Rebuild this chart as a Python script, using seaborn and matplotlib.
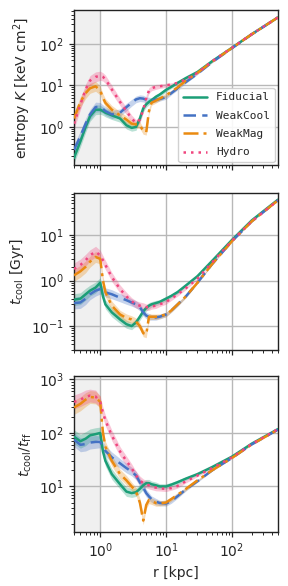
# ── Imports ──────────────────────────────────────────────────────────
import numpy as np
import pandas as pd
import matplotlib
matplotlib.use("Agg")
import matplotlib.pyplot as plt
import seaborn as sns

# ── Data ─────────────────────────────────────────────────────────────
r_kpc = [0.4, 0.5, 0.6, 0.7, 0.85, 1.0, 1.1, 1.2, 1.5, 2, 2.5, 3, 3.5, 4, 4.5,
         5, 5.5, 6, 7, 8, 10, 12, 15, 20, 30, 50, 100, 200, 500]

runs = ["Fiducial", "WeakCool", "WeakMag", "Hydro"]

# entropy K [keV cm^2]
K_fid  = [0.18, 0.45, 1.0, 1.8, 2.6, 2.6, 2.4, 2.2, 1.9, 1.6, 1.1, 0.95, 1.0, 1.6, 2.8,
          3.5, 4.0, 4.4, 5.3, 6.0, 7.8, 9.2, 11.5, 15, 21, 38, 80, 170, 430]
K_cool = [0.28, 0.6, 1.2, 2.0, 3.0, 3.0, 2.7, 2.4, 2.0, 2.2, 3.0, 3.8, 4.6, 4.9, 4.8,
          4.5, 4.4, 4.4, 4.5, 4.7, 5.2, 6.5, 8.5, 12, 19, 36, 78, 168, 430]
K_mag  = [1.6, 4.0, 6.5, 8.5, 9.5, 7.5, 5.0, 3.8, 2.6, 1.9, 1.5, 1.2, 1.15, 1.1, 0.8,
          0.75, 2.4, 3.8, 4.3, 4.8, 5.8, 7.0, 9.0, 13, 20, 37, 79, 169, 430]
K_hyd  = [1.2, 3.5, 8.0, 13, 16, 17, 16, 14, 8.0, 4.0, 2.4, 1.6, 1.25, 1.5, 2.6,
          5.0, 7.5, 8.5, 9.2, 9.5, 10, 10.5, 11.5, 14, 20, 38, 80, 170, 430]

# cooling time t_cool [Gyr]
tc_fid  = [0.38, 0.4, 0.5, 0.6, 0.7, 0.9, 0.45, 0.3, 0.2, 0.14, 0.11, 0.1, 0.12, 0.16, 0.21,
           0.25, 0.28, 0.3, 0.32, 0.34, 0.4, 0.46, 0.56, 0.78, 1.25, 2.7, 7.8, 21, 60]
tc_cool = [0.32, 0.33, 0.4, 0.5, 0.6, 0.65, 0.6, 0.55, 0.5, 0.42, 0.37, 0.33, 0.3, 0.26, 0.2,
           0.17, 0.16, 0.155, 0.155, 0.16, 0.18, 0.22, 0.3, 0.45, 0.9, 2.3, 7.3, 20, 58]
tc_mag  = [1.3, 1.6, 2.0, 2.6, 3.3, 3.0, 1.0, 0.55, 0.28, 0.18, 0.15, 0.14, 0.125, 0.1, 0.07,
           0.065, 0.16, 0.16, 0.16, 0.165, 0.18, 0.22, 0.3, 0.45, 0.9, 2.3, 7.3, 20, 58]
tc_hyd  = [1.8, 2.2, 2.8, 3.6, 4.3, 3.6, 2.8, 2.2, 1.2, 0.65, 0.45, 0.35, 0.3, 0.28, 0.27,
           0.26, 0.26, 0.27, 0.28, 0.3, 0.34, 0.4, 0.5, 0.68, 1.1, 2.5, 7.5, 20, 58]

# t_cool / t_ff
tr_fid  = [85, 70, 78, 90, 95, 100, 45, 30, 17, 11, 8.0, 7.5, 7.8, 9.0, 10.5,
           11.5, 11.5, 11, 10.5, 10, 10, 10.8, 12, 14, 17, 23, 36, 63, 118]
tr_cool = [75, 60, 62, 66, 68, 68, 55, 46, 35, 27, 22, 19, 16, 12, 9.5,
           7.5, 6.5, 5.8, 5.2, 4.9, 4.8, 5.3, 6.6, 8.8, 12.5, 20, 34, 61, 115]
tr_mag  = [300, 350, 420, 470, 460, 380, 100, 55, 30, 17, 13, 10, 8.0, 5.0, 2.3,
           4.5, 5.6, 5.3, 4.9, 4.8, 5.0, 5.8, 7.0, 9.0, 13, 20, 34, 61, 115]
tr_hyd  = [380, 420, 470, 500, 480, 380, 240, 170, 90, 45, 30, 22, 16, 13, 11.5,
           11, 10.5, 10, 9.5, 9.2, 9.0, 9.3, 10.2, 12.5, 16, 22, 35, 62, 118]

# half width of the shaded scatter band, in dex
band_dex = [0.13, 0.13, 0.13, 0.12, 0.12, 0.11, 0.1, 0.1, 0.1, 0.09, 0.09, 0.08, 0.08, 0.08, 0.08,
            0.07, 0.07, 0.06, 0.06, 0.05, 0.05, 0.04, 0.04, 0.03, 0.02, 0.015, 0.01, 0.008, 0.005]

# ── Styling ──────────────────────────────────────────────────────────
sns.set_theme(style="ticks")
plt.rcParams['font.family'] = ['DejaVu Sans']
plt.rcParams['axes.linewidth'] = 1.0
plt.rcParams['axes.edgecolor'] = '#222222'
plt.rcParams['xtick.major.width'] = 0.9
plt.rcParams['ytick.major.width'] = 0.9
plt.rcParams['xtick.major.size'] = 3.5
plt.rcParams['ytick.major.size'] = 3.5

colors = {"Fiducial": "#1b9e77", "WeakCool": "#4472c4",
          "WeakMag": "#ea8a10", "Hydro": "#f0457e"}
dashes = {"Fiducial": "-", "WeakCool": (0, (5, 2.5)),
          "WeakMag": (0, (6, 2, 1.2, 2)), "Hydro": (0, (1, 2))}

panels = [
    (dict(zip(runs, [K_fid, K_cool, K_mag, K_hyd])), r"entropy $K$ [keV cm$^2$]", (0.12, 650)),
    (dict(zip(runs, [tc_fid, tc_cool, tc_mag, tc_hyd])), r"$t_\mathrm{cool}$ [Gyr]", (0.03, 85)),
    (dict(zip(runs, [tr_fid, tr_cool, tr_mag, tr_hyd])), r"$t_\mathrm{cool}/t_\mathrm{ff}$", (1.4, 1150)),
]

fig = plt.figure(figsize=(2.88, 5.86), dpi=100)
boxes = [(0.257, 0.718, 0.708, 0.265),
         (0.257, 0.403, 0.708, 0.268),
         (0.257, 0.092, 0.708, 0.266)]

band = np.array(band_dex)
for i, ((series, ylabel, ylim), box) in enumerate(zip(panels, boxes)):
    ax = fig.add_axes(box)
    ax.axvspan(0.4, 1.0, color="#f0f0f0", zorder=0, lw=0)
    for run in runs:
        y = np.array(series[run], dtype=float)
        df = pd.DataFrame({"r": r_kpc, "y": y})
        ax.fill_between(r_kpc, y / 10**band, y * 10**band,
                        color=colors[run], alpha=0.3, lw=0, zorder=2)
        sns.lineplot(data=df, x="r", y="y", ax=ax, color=colors[run],
                     linestyle=dashes[run], lw=1.8, label=run, zorder=3,
                     legend=(i == 0))
    ax.set_xscale("log")
    ax.set_yscale("log")
    ax.set_xlim(0.4, 500)
    ax.set_ylim(*ylim)
    ax.grid(True, which="major", color="#b8b8b8", lw=1.0)
    ax.set_axisbelow(True)
    ax.set_ylabel(ylabel, fontsize=10)
    ax.tick_params(labelsize=10)
    ax.tick_params(which="minor", length=2.2, width=0.7)
    if i < 2:
        ax.set_xlabel("")
        ax.set_xticklabels([])
    else:
        ax.set_xlabel("r [kpc]", fontsize=10)
    if i == 0:
        leg = ax.legend(loc="lower right", prop={"family": "DejaVu Sans Mono", "size": 8},
                        handlelength=2.2, labelspacing=0.75, borderaxespad=0.3,
                        framealpha=0.9)

fig.savefig("out.png", dpi=100)
